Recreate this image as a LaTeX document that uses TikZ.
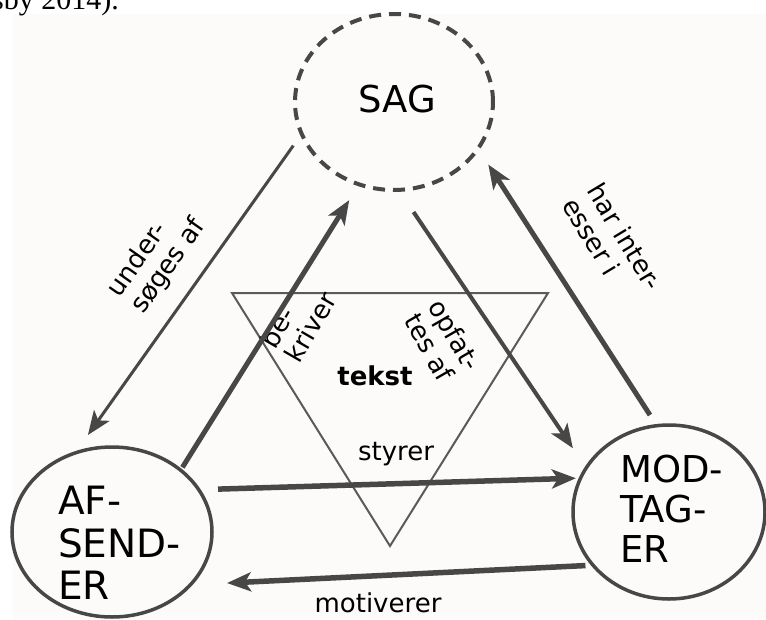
\documentclass[tikz,border=0pt]{standalone}
\usepackage{fontspec}
\setmainfont{DejaVu Sans}
\newfontfamily\kildefont{Liberation Serif}
\usetikzlibrary{shapes.geometric,arrows.meta}
\definecolor{stregfarve}{HTML}{474747}
\definecolor{trekantfarve}{HTML}{5A5A5A}
\definecolor{papir}{HTML}{FCFBFA}

\begin{document}
\begin{tikzpicture}[x=1pt,y=-1pt,
        ring/.style={ellipse,draw=stregfarve,line width=3.5pt,inner sep=0pt,outer sep=0pt},
        pil/.style={draw=stregfarve,line width=5pt,-{Stealth[length=24pt,width=19pt,inset=6pt]}},
        tynd/.style={pil,line width=3.5pt},
        ord/.style={font=\fontsize{26}{28.5}\selectfont,inner sep=0pt,align=left},
        stor/.style={font=\fontsize{37}{40}\selectfont,inner sep=0pt,align=left}]
        \useasboundingbox (0,0) rectangle (766,619);
        \fill[papir] (13,14) rectangle (766,619);
        \node[font=\kildefont\fontsize{30}{30}\selectfont,anchor=base east,inner sep=0pt] (kilde) at (119,9.5) {sby 2014).};
        \node[ring,dash pattern=on 12pt off 8pt,line width=4pt,minimum width=198pt,minimum height=176pt] (sag) at (394,102) {};
        \node[ring,minimum width=200pt,minimum height=170pt] (afsender) at (112,532) {};
        \node[ring,minimum width=192pt,minimum height=174pt] (modtager) at (669,512) {};
        \draw[trekantfarve,line width=2pt] (232,293) -- (548,293) -- (390,546) -- cycle;
        \node[stor,anchor=base] (sagtekst) at (397,112) {SAG};
        \node[stor,font=\fontsize{39}{42.5}\selectfont,anchor=north west] (aftekst) at (58,486) {AF-\\SEND-\\ER};
        \node[stor,anchor=north west] (modtekst) at (620,455) {MOD-\\TAG-\\ER};
        \node[ord,font=\bfseries\fontsize{26}{28}\selectfont,anchor=base] (tekst) at (375,385) {tekst};
        \node[ord,rotate=55] (undersoeges) at (157,258) {under-\\søges af};
        \node[ord,rotate=60] (beskriver) at (298,320) {be-\\kriver};
        \node[ord,rotate=-60] (opfattes) at (443,342) {opfat-\\tes af};
        \node[ord,rotate=-59] (interesser) at (613,244) {har inter-\\esser i};
        \node[ord,anchor=base] (styrer) at (396,460) {styrer};
        \node[ord,anchor=base] (motiverer) at (378,612) {motiverer};
        \draw[tynd,line width=3pt,shorten <=14.5pt,shorten >=22pt] (sag.199) -- (afsender.115);
        \draw[pil,shorten <=3.4pt,shorten >=18.6pt] (afsender.42) -- (sag.247);
        \draw[tynd,line width=4pt,shorten <=26.7pt,shorten >=23.8pt] (sag.273) -- (modtager.152);
        \draw[pil,shorten <=12.7pt,shorten >=19pt] (modtager.98) -- (sag.331);
        \draw[pil,line width=5.5pt,shorten <=19.3pt,shorten >=4.7pt] (afsender.26) -- (modtager.159);
        \draw[pil,line width=5.5pt,shorten <=7.6pt,shorten >=36.7pt] (modtager.215) -- (afsender.326);
    \end{tikzpicture}
\end{document}
